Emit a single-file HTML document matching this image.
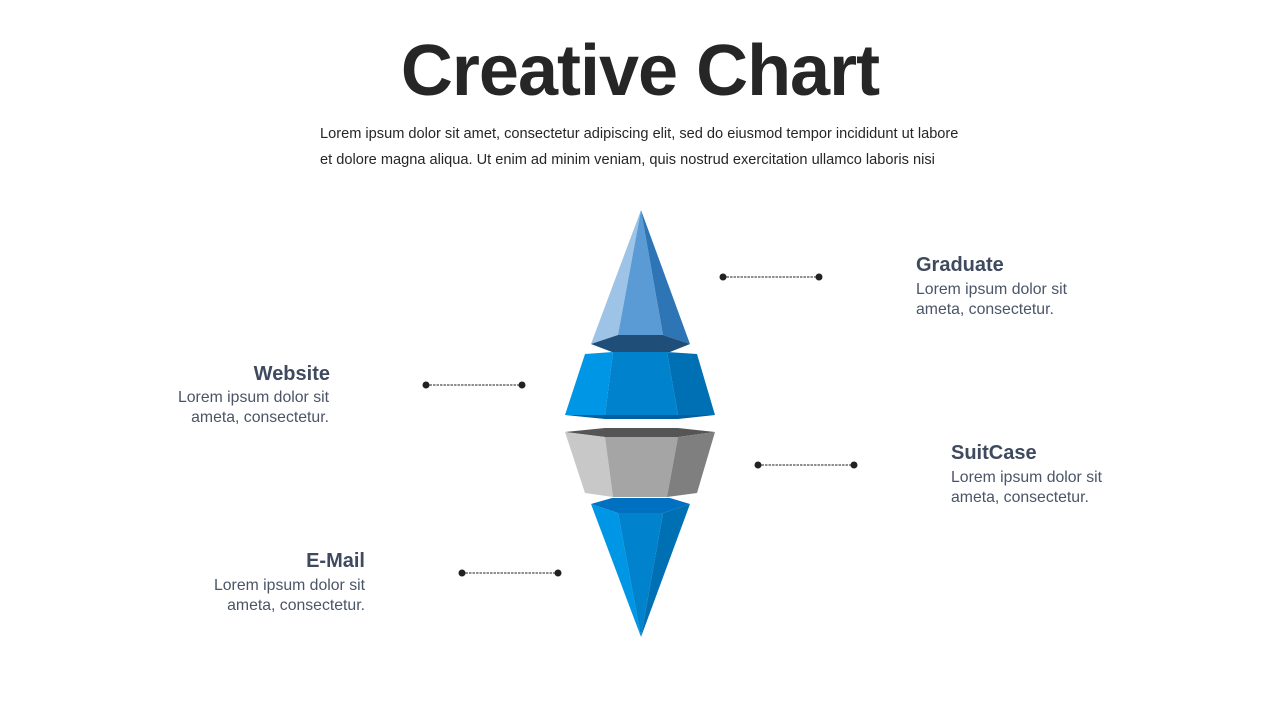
<!DOCTYPE html>
<html><head><meta charset="utf-8"><style>
body{margin:0;width:1280px;height:720px;background:#fff;position:relative;overflow:hidden;font-family:"Liberation Sans",sans-serif}
.t{position:absolute;left:0;width:1280px;text-align:center;top:30px;font-size:72px;font-weight:bold;color:#262626;letter-spacing:-1px}
.sub{position:absolute;left:320px;top:121px;font-size:14.6px;line-height:26px;color:#262626;white-space:nowrap}
.h{position:absolute;font-size:20px;font-weight:bold;color:#3f4a5e}
.p{position:absolute;font-size:15.8px;line-height:20px;color:#4a5568;white-space:nowrap}
.r{text-align:right}
</style></head><body>
<div class="t">Creative Chart</div>
<div class="sub">Lorem ipsum dolor sit amet, consectetur adipiscing elit, sed do eiusmod tempor incididunt ut labore<br>et dolore magna aliqua. Ut enim ad minim veniam, quis nostrud exercitation ullamco laboris nisi</div>
<div class="h" style="left:916px;top:254px">Graduate</div>
<div class="p" style="left:916px;top:280px">Lorem ipsum dolor sit<br>ameta, consectetur.</div>
<div class="h r" style="left:130px;width:200px;top:363px">Website</div>
<div class="p r" style="left:129px;width:200px;top:388px">Lorem ipsum dolor sit<br>ameta, consectetur.</div>
<div class="h" style="left:951px;top:442px">SuitCase</div>
<div class="p" style="left:951px;top:468px">Lorem ipsum dolor sit<br>ameta, consectetur.</div>
<div class="h r" style="left:165px;width:200px;top:550px">E-Mail</div>
<div class="p r" style="left:165px;width:200px;top:576px">Lorem ipsum dolor sit<br>ameta, consectetur.</div>
<svg width="1280" height="720" style="position:absolute;left:0;top:0">
<g stroke="#222" stroke-width="1" stroke-dasharray="2.5,1" fill="#222">
<line x1="723" y1="277" x2="819" y2="277"/><line x1="426" y1="385" x2="522" y2="385"/>
<line x1="758" y1="465" x2="854" y2="465"/><line x1="462" y1="573" x2="558" y2="573"/>
</g>
<g fill="#222"><circle cx="723" cy="277" r="3.5"/><circle cx="819" cy="277" r="3.5"/><circle cx="426" cy="385" r="3.5"/><circle cx="522" cy="385" r="3.5"/><circle cx="758" cy="465" r="3.5"/><circle cx="854" cy="465" r="3.5"/><circle cx="462" cy="573" r="3.5"/><circle cx="558" cy="573" r="3.5"/></g>
<polygon points="641,210 591,344 618,335" fill="#9dc3e6"/>
<polygon points="641,210 618,335 663,335" fill="#5b9bd5"/>
<polygon points="641,210 663,335 690,344" fill="#2e75b6"/>
<polygon points="591,344 618,335 663,335 690,344 670,352 612,352" fill="#1f4e79"/>
<polygon points="585,354 613,352 605,415 565,415" fill="#0096e6"/>
<polygon points="613,352 667,352 678,415 605,415" fill="#0083cc"/>
<polygon points="667,352 697,354 715,415 678,415" fill="#0070b5"/>
<polygon points="565,415 715,415 678,419 605,419" fill="#005f9e"/>
<polygon points="565,432 605,428 678,428 715,432 678,437 605,437" fill="#555"/>
<polygon points="565,432 605,437 613,497 585,493" fill="#c8c8c8"/>
<polygon points="605,437 678,437 667,497 613,497" fill="#a5a5a5"/>
<polygon points="678,437 715,432 697,493 667,497" fill="#7f7f7f"/>
<polygon points="591,504 612,498 670,498 690,504 663,513 618,513" fill="#0070c0"/>
<polygon points="591,504 618,513 641,637" fill="#0096e6"/>
<polygon points="618,513 663,513 641,637" fill="#0083cc"/>
<polygon points="663,513 690,504 641,637" fill="#0070b5"/>
</svg>
</body></html>
